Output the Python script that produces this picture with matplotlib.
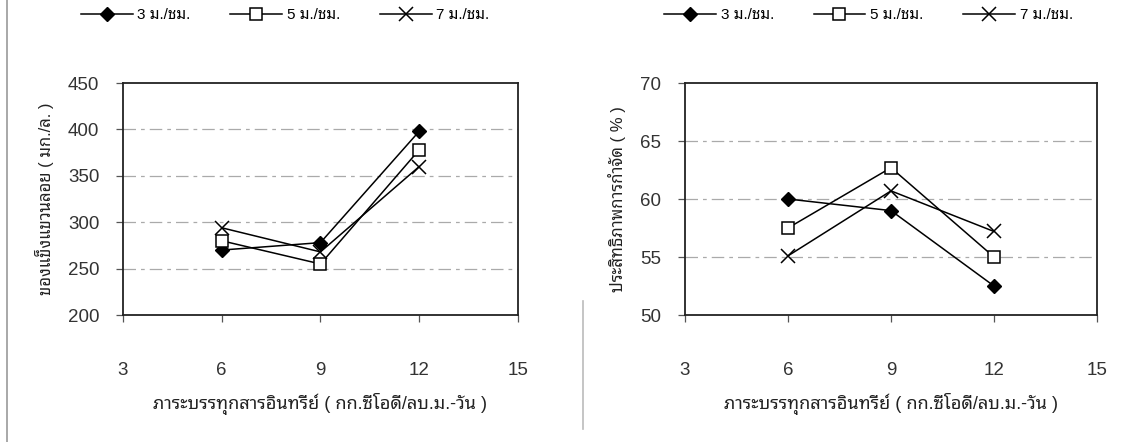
import matplotlib
matplotlib.use('Agg')
import matplotlib.pyplot as plt
from matplotlib.lines import Line2D

plt.rcParams['font.family'] = ['Liberation Sans', 'Noto Sans Thai Looped']

# organic loading (kg COD/m3-day)
loading = [6, 9, 12]

# suspended solids (mg/L) for each surface loading rate
ss_3 = [270, 278, 398]
ss_5 = [280, 255, 378]
ss_7 = [294, 268, 360]

# removal efficiency (%)
eff_3 = [60.0, 59.0, 52.5]
eff_5 = [57.5, 62.7, 55.0]
eff_7 = [55.1, 60.7, 57.2]

series_labels = ['3 ม./ชม.', '5 ม./ชม.', '7 ม./ชม.']
x_ticks = [3, 6, 9, 12, 15]
xlabel = 'ภาระบรรทุกสารอินทรีย์ ( กก.ซีโอดี/ลบ.ม.-วัน )'
ylabel_ss = 'ของแข็งแขวนลอย ( มก./ล. )'
ylabel_eff = 'ประสิทธิภาพการกำจัด ( % )'

styles = [
    dict(marker='D', markersize=7, markerfacecolor='black', markeredgecolor='black'),
    dict(marker='s', markersize=8, markerfacecolor='white', markeredgecolor='black', markeredgewidth=1.1),
    dict(marker='x', markersize=10, markeredgecolor='black', markeredgewidth=1.1),
]


def draw_panel(ax, ys, yticks, ylabel, legend_x):
    for y, st, lab in zip(ys, styles, series_labels):
        ax.plot(loading, y, color='black', linewidth=1.1, label=lab, **st)
    ax.set_xlim(x_ticks[0], x_ticks[-1])
    ax.set_xticks(x_ticks)
    ax.set_ylim(yticks[0], yticks[-1])
    ax.set_yticks(yticks)
    ax.tick_params(direction='out', length=5, width=0.9, labelsize=13.5,
                   labelcolor='#333333', color='#555555')
    ax.tick_params(axis='y', pad=12)
    ax.tick_params(axis='x', pad=29)
    for s in ax.spines.values():
        s.set_linewidth(1.3)
        s.set_color('#222222')
    for t in yticks[1:-1]:
        ax.axhline(t, color='#aaaaaa', linewidth=0.9, linestyle=(0, (10, 4, 3, 4)), zorder=0)
    ax.set_xlabel(xlabel, fontsize=13, color='#222222', labelpad=10)
    ax.set_ylabel(ylabel, fontsize=12, color='#222222', labelpad=10)
    ax.legend(loc='center', bbox_to_anchor=(legend_x, 1.293), ncol=3, frameon=False,
              fontsize=11, handlelength=3.4, columnspacing=2.6, handletextpad=0.3,
              borderaxespad=0)


fig = plt.figure(figsize=(11.27, 4.42), dpi=100)
ax1 = fig.add_axes([0.1091, 0.2873, 0.3505, 0.5249])
ax2 = fig.add_axes([0.6078, 0.2873, 0.3656, 0.5249])

draw_panel(ax1, [ss_3, ss_5, ss_7], [200, 250, 300, 350, 400, 450], ylabel_ss, 0.41)
draw_panel(ax2, [eff_3, eff_5, eff_7], [50, 55, 60, 65, 70], ylabel_eff, 0.445)

# page edge lines
fig.add_artist(Line2D([0.0062, 0.0062], [0, 1], color='#999999', linewidth=1.2))
fig.add_artist(Line2D([0.5173, 0.5173], [0.03, 0.32], color='#bbbbbb', linewidth=1.2))

fig.savefig('out.png', dpi=100)
